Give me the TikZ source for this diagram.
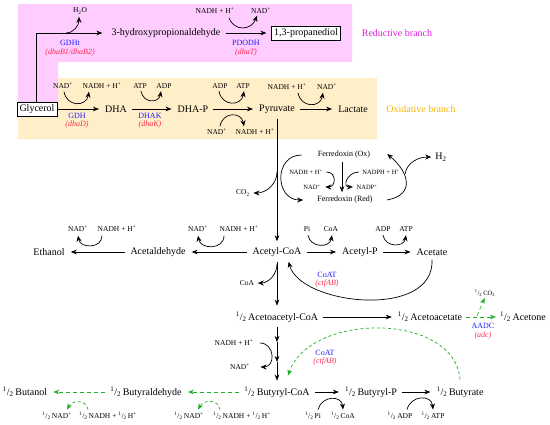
\documentclass[tikz,border=0pt]{standalone}
\usepackage{fontspec}
\setmainfont{Liberation Serif}
\usetikzlibrary{arrows.meta}
\definecolor{pinkbg}{RGB}{255,204,255}
\definecolor{orangebg}{RGB}{255,239,201}
\definecolor{enzc}{RGB}{30,30,255}
\definecolor{genec}{RGB}{255,40,80}
\definecolor{redbr}{RGB}{220,30,220}
\definecolor{oxbr}{RGB}{245,180,0}
\definecolor{grn}{RGB}{30,175,40}
\newcommand{\hlf}{\textsuperscript{1}/\textsubscript{2}\,}
\tikzset{
 met/.style={inner sep=1pt, font=\fontsize{10}{12}\selectfont},
 mbox/.style={met, draw, line width=0.6pt, fill=white, inner sep=2.5pt},
 fer/.style={inner sep=1pt, font=\fontsize{8}{9}\selectfont},
 cof/.style={inner sep=0.5pt, font=\fontsize{7.5}{8}\selectfont},
 scof/.style={inner sep=0.5pt, font=\fontsize{6.5}{7}\selectfont},
 enzl/.style={text=enzc, inner sep=0.5pt, font=\fontsize{8}{9}\selectfont},
 genel/.style={text=genec, inner sep=0.5pt, font=\fontsize{8}{9}\selectfont\itshape},
 brl/.style={inner sep=1pt, font=\fontsize{10}{12}\selectfont},
 rxn/.style={-{Stealth[length=6pt,width=4.6pt]}, line width=0.6pt, shorten >=5pt, shorten <=4pt},
 cur/.style={-{Stealth[length=6pt,width=5pt]}, line width=0.7pt},
 grx/.style={rxn, draw=grn, dash pattern=on 4pt off 3pt},
 gcur/.style={cur, draw=grn, dash pattern=on 3pt off 2.5pt},
}
\begin{document}
\begin{tikzpicture}[x=1pt,y=1pt]
\useasboundingbox (0,0) rectangle (550,-424);
% backgrounds
\fill[pinkbg] (18,-4) -- (352,-4) -- (352,-62) -- (58,-62) -- (58,-110) -- (18,-110) -- cycle;
\fill[orangebg] (58,-78) -- (377,-78) -- (377,-139) -- (18,-139) -- (18,-110) -- (58,-110) -- cycle;
\node[brl, text=redbr] (redl) at (397,-33) {Reductive branch};
\node[brl, text=oxbr] (oxl) at (421,-109) {Oxidative branch};

% reductive branch
\node[mbox] (gly) at (37,-109) {Glycerol};
\node[met] (hpa) at (166,-33) {3-hydroxypropionaldehyde};
\node[mbox] (pdo) at (306,-33) {1,3-propanediol};
\node[cof] (h2o) at (80,-11) {H\textsubscript{2}O};
\node[cof] (nadh1) at (215,-11) {NADH + H\textsuperscript{+}};
\node[cof] (nad1) at (261,-11) {NAD\textsuperscript{+}};
\node[enzl] (gdht) at (70,-43) {GDHt};
\node[genel] (dhab) at (70,-53) {(dhaB1/dhaB2)};
\node[enzl] (pdodh) at (246,-43) {PDODH};
\node[genel] (dhat) at (246,-53) {(dhaT)};
\coordinate (h2oJ) at (66,-33);

\draw[rxn, shorten <=0pt, shorten >=8pt] ([xshift=-1pt]gly.north) |- (hpa.west);
\draw[cur] (h2oJ) to[out=0,in=-90] ([shift={(-1,-2)}]h2o.south);
\draw[rxn] (hpa.east) -- (pdo.west);
\draw[cur] ([shift={(14,-3)}]nadh1.south) to[out=-70,in=-110,looseness=1.4] ([shift={(-4,-1)}]nad1.south);

% oxidative branch
\node[met] (dha) at (116,-109) {DHA};
\node[met] (dhap) at (193,-109) {DHA-P};
\node[met] (pyr) at (277,-109) {Pyruvate};
\node[met] (lac) at (353,-109) {Lactate};
\node[cof] (nad2) at (63,-86) {NAD\textsuperscript{+}};
\node[cof] (nadh2) at (102,-86) {NADH + H\textsuperscript{+}};
\node[cof] (atp1) at (140,-86) {ATP};
\node[cof] (adp1) at (164,-86) {ADP};
\node[cof] (adp2) at (220,-86) {ADP};
\node[cof] (atp2) at (243,-86) {ATP};
\node[cof] (nad3) at (217,-132) {NAD\textsuperscript{+}};
\node[cof] (nadh3) at (255,-132) {NADH + H\textsuperscript{+}};
\node[cof] (nadh4) at (287,-87) {NADH + H\textsuperscript{+}};
\node[cof] (nad4) at (327,-87) {NAD\textsuperscript{+}};
\node[enzl] (gdh) at (77,-116) {GDH};
\node[genel] (dhad) at (77,-125) {(dhaD)};
\node[enzl] (dhak) at (150,-116) {DHAK};
\node[genel] (dhakg) at (150,-125) {(dhaK)};

\draw[rxn, shorten <=0pt] (gly) -- (dha);
\draw[rxn] (dha) -- (dhap);
\draw[rxn] (dhap) -- (pyr);
\draw[rxn] (pyr) -- (lac);
\draw[cur] ([shift={(1,-2)}]nad2.south) to[out=-80,in=-100,looseness=1.6] ([shift={(-13,-2)}]nadh2.south);
\draw[cur] ([shift={(1,-2)}]atp1.south) to[out=-80,in=-100,looseness=1.6] ([shift={(-3,-2)}]adp1.south);
\draw[cur] ([shift={(-1,-2)}]adp2.south) to[out=-80,in=-100,looseness=1.6] ([shift={(1,-2)}]atp2.south);
\draw[cur] ([shift={(3,2)}]nad3.north) to[out=80,in=100,looseness=1.6] ([shift={(-11,2)}]nadh3.north);
\draw[cur] ([shift={(11,-2)}]nadh4.south) to[out=-80,in=-100,looseness=1.6] ([shift={(-4,-2)}]nad4.south);

% ferredoxin
\node[fer] (fox) at (344,-155) {Ferredoxin (Ox)};
\node[fer] (fred) at (345,-200) {Ferredoxin (Red)};
\node[scof] (fnadh) at (306,-172) {NADH + H\textsuperscript{+}};
\node[scof] (fnad) at (312,-187) {NAD\textsuperscript{+}};
\node[scof] (fnadph) at (381,-172) {NADPH + H\textsuperscript{+}};
\node[scof] (fnadp) at (367,-187) {NADP\textsuperscript{+}};
\node[met] (h2) at (441,-157) {H\textsubscript{2}};
\node[cof] (co2) at (243,-193) {CO\textsubscript{2}};
\coordinate (co2J) at (277,-172);
\coordinate (h2J) at (405,-174);

\draw[cur] ([shift={(-15,0)}]fox.west) to[out=180,in=180,looseness=1.6] ([shift={(-13,0)}]fred.west);
\draw[cur] ([shift={(13,0)}]fred.east) to[out=10,in=-40,looseness=1.6] ([shift={(16,1)}]fox.east);
\draw[cur] (h2J) to[out=80,in=180] ([shift={(-3,0)}]h2.west);
\draw[rxn, shorten <=2pt, shorten >=3pt] ([shift={(-2,0)}]fox.south) -- ([shift={(-3,0)}]fred.north);
\draw[cur] ([shift={(3,0)}]fnadh.east) to[out=0,in=0,looseness=1.8] ([shift={(4,0)}]fnad.east);
\draw[cur] ([shift={(-3,0)}]fnadph.west) to[out=180,in=180,looseness=1.8] ([shift={(-3,0)}]fnadp.west);
\draw[cur] (co2J) to[out=-90,in=0] ([shift={(3,0)}]co2.east);

% acetyl-CoA row
\node[met] (acoa) at (277,-252) {Acetyl-CoA};
\node[met] (acald) at (158,-252) {Acetaldehyde};
\node[met] (etoh) at (49,-252) {Ethanol};
\node[met] (acp) at (360,-252) {Acetyl-P};
\node[met] (ac) at (432,-252) {Acetate};
\node[cof] (nad5) at (198,-229) {NAD\textsuperscript{+}};
\node[cof] (nadh5) at (239,-229) {NADH + H\textsuperscript{+}};
\node[cof] (nad6) at (78,-229) {NAD\textsuperscript{+}};
\node[cof] (nadh6) at (117,-229) {NADH + H\textsuperscript{+}};
\node[cof] (pi1) at (307,-229) {Pi};
\node[cof] (coa2) at (331,-229) {CoA};
\node[cof] (adp3) at (383,-229) {ADP};
\node[cof] (atp3) at (406,-229) {ATP};
\node[enzl] (coat1) at (327,-275) {CoAT};
\node[genel] (ctf1) at (327,-284) {(ctfAB)};
\node[cof] (coa1) at (247,-283) {CoA};
\coordinate (coaJ) at (277,-264);

\draw[rxn] (pyr) -- (acoa);
\draw[rxn] (acoa) -- (acald);
\draw[rxn] (acald) -- (etoh);
\draw[rxn] (acoa) -- (acp);
\draw[rxn] (acp) -- (ac);
\draw[cur] ([shift={(-15,-3)}]nadh5.south) to[out=-90,in=-80,looseness=1.4] ([shift={(0,-3)}]nad5.south);
\draw[cur] ([shift={(-15,-3)}]nadh6.south) to[out=-90,in=-80,looseness=1.4] ([shift={(0,-3)}]nad6.south);
\draw[cur] ([shift={(1,-3)}]pi1.south) to[out=-80,in=-100,looseness=1.4] ([shift={(1,-3)}]coa2.south);
\draw[cur] ([shift={(0,-3)}]adp3.south) to[out=-80,in=-100,looseness=1.4] ([shift={(0,-3)}]atp3.south);
\draw[cur] ([shift={(0,-3)}]ac.south) .. controls (435,-320) and (300,-305) .. ([shift={(-14,-4)}]acoa.south east);
\draw[cur] (coaJ) to[out=-90,in=0] ([shift={(3,0)}]coa1.east);

% acetoacetyl-CoA row
\node[met] (aacoa) at (277,-317) {\hlf Acetoacetyl-CoA};
\node[met] (aac) at (430,-317) {\hlf Acetoacetate};
\node[met] (acet) at (523,-317) {\hlf Acetone};
\node[scof] (co2b) at (485,-293) {\hlf CO\textsubscript{2}};
\node[enzl] (aadc) at (483,-326) {AADC};
\node[genel] (adcg) at (483,-336) {(adc)};
\coordinate (co2bJ) at (477,-316);

\draw[rxn] (acoa) -- (aacoa);
\draw[rxn] (aacoa) -- (aac);
\draw[grx, shorten <=3pt, shorten >=3pt] (aac) -- (acet);
\draw[grx, shorten <=0pt, shorten >=1pt] (co2bJ) -- (co2b.south);

% butyryl-CoA row
\node[met] (bcoa) at (277,-392) {\hlf Butyryl-CoA};
\node[met] (bp) at (371,-392) {\hlf Butyryl-P};
\node[met] (but) at (460,-392) {\hlf Butyrate};
\node[met] (bald) at (146,-392) {\hlf Butyraldehyde};
\node[met] (boh) at (25,-392) {\hlf Butanol};
\node[cof] (nadh7) at (234,-343) {NADH + H\textsuperscript{+}};
\node[cof] (nad7) at (240,-367) {NAD\textsuperscript{+}};
\node[enzl] (coat2) at (325,-353) {CoAT};
\node[genel] (ctf2) at (325,-362) {(ctfAB)};
\node[cof] (pi2) at (313,-416) {\hlf Pi};
\node[cof] (coa3) at (343,-416) {\hlf CoA};
\node[cof] (adp4) at (400,-416) {\hlf ADP};
\node[cof] (atp4) at (433,-416) {\hlf ATP};
\node[cof] (hnad1) at (189,-416) {\hlf NAD\textsuperscript{+}};
\node[cof] (hnadh1) at (242,-416) {\hlf NADH + \hlf H\textsuperscript{+}};
\node[cof] (hnad2) at (57,-416) {\hlf NAD\textsuperscript{+}};
\node[cof] (hnadh2) at (108,-416) {\hlf NADH + \hlf H\textsuperscript{+}};
\coordinate (m1) at (277,-342);
\coordinate (m2) at (277,-362);

\draw[rxn, shorten >=0pt] (aacoa) -- (m1);
\draw[rxn, shorten <=0pt, shorten >=0pt] (m1) -- (m2);
\draw[rxn, shorten <=0pt] (m2) -- (bcoa);
\draw[cur] ([shift={(6,0)}]nadh7.east) to[out=0,in=0,looseness=1.6] ([shift={(10,0)}]nad7.east);
\draw[gcur] ([shift={(0,6)}]but.north) .. controls (455,-312) and (310,-312) .. ([shift={(11,10)}]bcoa.north);
\draw[rxn] (bcoa) -- (bp);
\draw[rxn] (bp) -- (but);
\draw[cur] ([shift={(5,2)}]pi2.north) to[out=75,in=95,looseness=1.5] ([shift={(0,2)}]coa3.north);
\draw[cur] ([shift={(7,2)}]adp4.north) to[out=75,in=95,looseness=1.5] ([shift={(0,2)}]atp4.north);
\draw[grx] (bcoa) -- (bald);
\draw[grx] (bald) -- (boh);
\draw[gcur] ([shift={(-22,2)}]hnadh1.north) to[out=100,in=60,looseness=1.3] ([shift={(9,2)}]hnad1.north);
\draw[gcur] ([shift={(-20,2)}]hnadh2.north) to[out=100,in=60,looseness=1.3] ([shift={(10,2)}]hnad2.north);
\end{tikzpicture}
\end{document}
